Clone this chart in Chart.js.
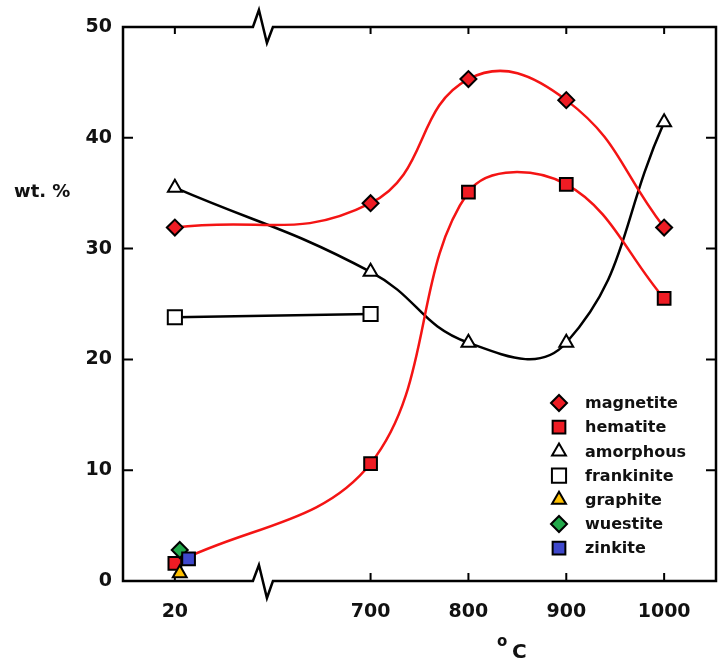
<!DOCTYPE html>
<html>
<head>
<meta charset="utf-8">
<script src="https://cdn.jsdelivr.net/npm/chart.js@4.4.1/dist/chart.umd.min.js"></script>
<style>
  html, body { margin: 0; padding: 0; background: #fff; }
</style>
</head>
<body>
<canvas id="chart" width="722" height="659"></canvas>
<script>
// temperatures (°C) and wt.%
const temps = [20, 700, 800, 900, 1000];
const magnetite = [31.9, 34.1, 45.3, 43.4, 31.9];
const hematite = [1.6, 10.6, 35.1, 35.8, 25.5];
const amorphous = [35.5, 27.9, 21.5, 21.5, 41.4];
const frankiniteTemps = [20, 700];
const frankinite = [23.8, 24.1];
// the low-temperature phases sit slightly staggered around 20 °C
const graphiteTemps = [25];
const graphite = [0.7];
const wuestiteTemps = [25];
const wuestite = [2.8];
const zinkiteTemps = [34];
const zinkite = [2.0];

const xTickTemps = [20, 700, 800, 900, 1000];
const yTicks = [0, 10, 20, 30, 40, 50];

// broken axis: the room-temperature part is shifted next to 700
const LEFT_SHIFT = 480;
const BREAK_POS = 590;
function axisPos(t) { return t < 300 ? t + LEFT_SHIFT : t; }
function pts(ts, vals) { return ts.map((t, i) => ({ x: axisPos(t), y: vals[i] })); }

const RED = '#ee1c24';
const LINE_RED = '#f41414';
const FONT = '"DejaVu Sans", Tahoma, sans-serif';

const framePlugin = {
  id: 'brokenFrame',
  beforeDatasetsDraw(chart) {
    const { ctx, chartArea: a, scales: { x, y } } = chart;
    const bx = x.getPixelForValue(BREAK_POS);
    ctx.save();
    ctx.strokeStyle = '#000';
    ctx.lineWidth = 2.5;
    ctx.lineJoin = 'miter';
    ctx.beginPath();
    ctx.moveTo(bx + 10, a.top);
    ctx.lineTo(a.right, a.top);
    ctx.lineTo(a.right, a.bottom);
    ctx.lineTo(bx + 10, a.bottom);
    ctx.lineTo(bx + 4, a.bottom + 17);
    ctx.lineTo(bx - 4, a.bottom - 16);
    ctx.lineTo(bx - 10, a.bottom);
    ctx.lineTo(a.left, a.bottom);
    ctx.lineTo(a.left, a.top);
    ctx.lineTo(bx - 10, a.top);
    ctx.lineTo(bx - 4, a.top - 17);
    ctx.lineTo(bx + 4, a.top + 16);
    ctx.closePath();
    ctx.stroke();

    ctx.lineWidth = 2;
    ctx.beginPath();
    yTicks.slice(1, -1).forEach(v => {
      const py = y.getPixelForValue(v);
      ctx.moveTo(a.left, py); ctx.lineTo(a.left + 10, py);
      ctx.moveTo(a.right, py); ctx.lineTo(a.right - 10, py);
    });
    xTickTemps.forEach(t => {
      const px = x.getPixelForValue(axisPos(t));
      ctx.moveTo(px, a.bottom); ctx.lineTo(px, a.bottom - 8);
      ctx.moveTo(px, a.top); ctx.lineTo(px, a.top + 7);
    });
    ctx.stroke();
    ctx.restore();
  },
  afterDatasetsDraw(chart) {
    const { ctx } = chart;
    ctx.save();
    ctx.font = 'bold 16px ' + FONT;
    ctx.textBaseline = 'middle';
    ctx.textAlign = 'left';
    chart.data.datasets.forEach((ds, i) => {
      const ly = 403 + i * 24.2;
      ctx.fillStyle = ds.pointBackgroundColor;
      ctx.strokeStyle = '#000';
      ctx.lineWidth = 2;
      Chart.helpers.drawPoint(ctx, {
        pointStyle: ds.pointStyle,
        radius: ds.pointRadius,
        rotation: 0,
        borderWidth: 2
      }, 559, ly);
      ctx.fillStyle = '#111';
      ctx.fillText(ds.label, 585, ly + 1);
    });
    ctx.restore();
  },
  afterDraw(chart) {
    const { ctx } = chart;
    ctx.save();
    ctx.fillStyle = '#111';
    ctx.textBaseline = 'alphabetic';
    ctx.textAlign = 'left';
    ctx.font = 'bold 18px ' + FONT;
    ctx.fillText('wt. %', 14, 197);
    ctx.font = 'bold 15px ' + FONT;
    ctx.fillText('o', 497, 646);
    ctx.font = 'bold 20px ' + FONT;
    ctx.fillText('C', 512, 658);
    ctx.restore();
  }
};

function lineSet(label, ts, vals, color, tension, style, radius, fill, order) {
  return {
    label: label,
    data: pts(ts, vals),
    borderColor: color,
    borderWidth: 2.5,
    tension: tension,
    pointStyle: style,
    pointRadius: radius,
    pointHoverRadius: radius,
    pointBackgroundColor: fill,
    pointBorderColor: '#000',
    pointBorderWidth: 2,
    order: order
  };
}

function pointSet(label, ts, vals, style, radius, fill, order) {
  return {
    label: label,
    data: pts(ts, vals),
    showLine: false,
    pointStyle: style,
    pointRadius: radius,
    pointHoverRadius: radius,
    pointBackgroundColor: fill,
    pointBorderColor: '#000',
    pointBorderWidth: 2,
    order: order
  };
}

new Chart(document.getElementById('chart'), {
  type: 'line',
  data: {
    datasets: [
      lineSet('magnetite', temps, magnetite, LINE_RED, 0.45, 'rectRot', 8, RED, 4),
      lineSet('hematite', temps, hematite, LINE_RED, 0.38, 'rect', 9, RED, 5),
      lineSet('amorphous', temps, amorphous, '#000', 0.45, 'triangle', 8, '#fff', 6),
      lineSet('frankinite', frankiniteTemps, frankinite, '#000', 0, 'rect', 10, '#fff', 7),
      pointSet('graphite', graphiteTemps, graphite, 'triangle', 8, '#ffc000', 2),
      pointSet('wuestite', wuestiteTemps, wuestite, 'rectRot', 8, '#22a84a', 3),
      pointSet('zinkite', zinkiteTemps, zinkite, 'rect', 9, '#3f48cc', 1)
    ]
  },
  options: {
    responsive: false,
    animation: false,
    layout: { autoPadding: false, padding: { top: 27, right: 6, left: 0, bottom: 0 } },
    plugins: {
      legend: { display: false },
      tooltip: { enabled: false }
    },
    scales: {
      x: {
        type: 'linear',
        min: 447,
        max: 1053,
        grid: { display: false, drawTicks: false },
        border: { display: false },
        afterBuildTicks: scale => {
          scale.ticks = xTickTemps.map(t => ({ value: axisPos(t) }));
        },
        afterFit: scale => {
          scale.height = 78;
          scale.paddingLeft = 0;
          scale.paddingRight = 0;
        },
        ticks: {
          padding: 20,
          color: '#111',
          font: { family: FONT, size: 19, weight: 'bold' },
          callback: v => {
            const t = xTickTemps.find(tt => axisPos(tt) === v);
            return t === undefined ? '' : String(t);
          }
        }
      },
      y: {
        min: 0,
        max: 50,
        grid: { display: false, drawTicks: false },
        border: { display: false },
        afterFit: scale => { scale.width = 123; },
        ticks: {
          stepSize: 10,
          padding: 11,
          color: '#111',
          font: { family: FONT, size: 19, weight: 'bold' }
        }
      }
    }
  },
  plugins: [framePlugin]
});
</script>
</body>
</html>
